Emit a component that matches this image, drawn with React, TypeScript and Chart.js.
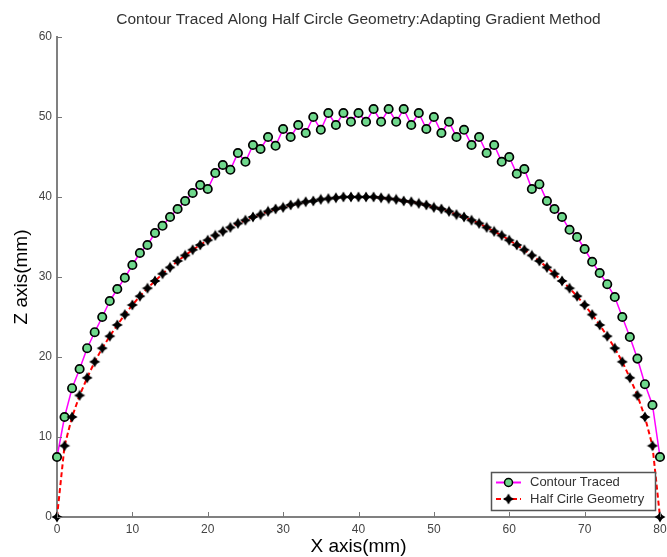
import React, { useEffect, useRef } from 'react';
import { Chart, registerables } from 'chart.js';

Chart.register(...registerables);

const titleText = 'Contour Traced Along Half Circle Geometry:Adapting Gradient Method';
const xAxisTitle = 'X axis(mm)';
const yAxisTitle = 'Z axis(mm)';
const legendLabels = ['Contour Traced', 'Half Cirle Geometry'];

const xTicks = [0, 10, 20, 30, 40, 50, 60, 70, 80];
const yTicks = [0, 10, 20, 30, 40, 50, 60];

const xValues = [
  0, 1, 2, 3, 4, 5, 6, 7, 8, 9, 10, 11, 12, 13, 14, 15, 16, 17, 18, 19, 20,
  21, 22, 23, 24, 25, 26, 27, 28, 29, 30, 31, 32, 33, 34, 35, 36, 37, 38, 39, 40,
  41, 42, 43, 44, 45, 46, 47, 48, 49, 50, 51, 52, 53, 54, 55, 56, 57, 58, 59, 60,
  61, 62, 63, 64, 65, 66, 67, 68, 69, 70, 71, 72, 73, 74, 75, 76, 77, 78, 79, 80,
];

const contourZ = [
  7.5, 12.5, 16.1, 18.5, 21.1, 23.1, 25.0, 27.0, 28.5, 29.9, 31.5,
  33.0, 34.0, 35.5, 36.4, 37.5, 38.5, 39.5, 40.5, 41.5, 41.0,
  43.0, 44.0, 43.4, 45.5, 44.4, 46.5, 46.0, 47.5, 46.4, 48.5,
  47.5, 49.0, 48.0, 50.0, 48.4, 50.5, 49.0, 50.5, 49.4, 50.5,
  49.4, 51.0, 49.4, 51.0, 49.4, 51.0, 49.0, 50.5, 48.5, 50.0,
  48.0, 49.4, 47.5, 48.4, 46.5, 47.5, 45.5, 46.5, 44.4, 45.0,
  42.9, 43.5, 41.0, 41.6, 39.5, 38.5, 37.5, 35.9, 35.0, 33.5,
  31.9, 30.5, 29.1, 27.5, 25.0, 22.5, 19.8, 16.6, 14.0, 7.5,
];

const circleZ = [
  0.0, 8.9, 12.5, 15.2, 17.4, 19.4, 21.1, 22.6, 24.0, 25.3, 26.5,
  27.6, 28.6, 29.5, 30.4, 31.2, 32.0, 32.7, 33.4, 34.0, 34.6,
  35.2, 35.7, 36.2, 36.7, 37.1, 37.5, 37.8, 38.2, 38.5, 38.7,
  39.0, 39.2, 39.4, 39.5, 39.7, 39.8, 39.9, 40.0, 40.0, 40.0,
  40.0, 40.0, 39.9, 39.8, 39.7, 39.5, 39.4, 39.2, 39.0, 38.7,
  38.5, 38.2, 37.8, 37.5, 37.1, 36.7, 36.2, 35.7, 35.2, 34.6,
  34.0, 33.4, 32.7, 32.0, 31.2, 30.4, 29.5, 28.6, 27.6, 26.5,
  25.3, 24.0, 22.6, 21.1, 19.4, 17.4, 15.2, 12.5, 8.9, 0.0,
];

const FONT = "'Liberation Sans', Arial, sans-serif";
const GREEN = '#6fd88c';
const MAGENTA = '#ff00ff';
const RED = '#ff0000';

function makeStar(): HTMLCanvasElement {
  const c = document.createElement('canvas');
  c.width = 12;
  c.height = 12;
  const g = c.getContext('2d')!;
  g.fillStyle = '#000';
  g.beginPath();
  const cx = 6, cy = 6, R = 5.5, r = 3.0;
  for (let i = 0; i < 8; i++) {
    const a = (Math.PI / 4) * i - Math.PI / 2;
    const rad = i % 2 === 0 ? R : r;
    const px = cx + rad * Math.cos(a);
    const py = cy + rad * Math.sin(a);
    if (i === 0) g.moveTo(px, py); else g.lineTo(px, py);
  }
  g.closePath();
  g.fill();
  return c;
}

export default function App() {
  const ref = useRef<HTMLCanvasElement | null>(null);

  useEffect(() => {
    if (!ref.current) return;
    const star = makeStar();

    const decor = {
      id: 'decor',
      afterDatasetsDraw(chart: any) {
        const { ctx, chartArea, scales } = chart;
        const xs = scales.x, ys = scales.y;
        ctx.save();
        ctx.strokeStyle = '#777';
        ctx.lineWidth = 1;
        ctx.beginPath();
        xTicks.forEach((v) => {
          const px = Math.round(xs.getPixelForValue(v)) + 0.5;
          ctx.moveTo(px, chartArea.bottom);
          ctx.lineTo(px, chartArea.bottom - 5);
        });
        yTicks.forEach((v) => {
          const py = Math.round(ys.getPixelForValue(v)) + 0.5;
          ctx.moveTo(chartArea.left, py);
          ctx.lineTo(chartArea.left + 5, py);
        });
        ctx.stroke();

        // legend box
        const bw = 164, bh = 38;
        const bx = chartArea.right - 5 - bw;
        const by = chartArea.bottom - 7 - bh;
        ctx.fillStyle = '#fff';
        ctx.fillRect(bx, by, bw, bh);
        ctx.strokeStyle = '#555';
        ctx.lineWidth = 1.5;
        ctx.strokeRect(bx + 0.5, by + 0.5, bw, bh);

        const lx0 = bx + 5, lx1 = bx + 30, lmid = bx + 17.5;
        const r1 = by + 10.5, r2 = by + 27;
        ctx.strokeStyle = MAGENTA;
        ctx.lineWidth = 2;
        ctx.setLineDash([]);
        ctx.beginPath();
        ctx.moveTo(lx0, r1);
        ctx.lineTo(lx1, r1);
        ctx.stroke();
        ctx.fillStyle = GREEN;
        ctx.strokeStyle = '#000';
        ctx.lineWidth = 1.5;
        ctx.beginPath();
        ctx.arc(lmid, r1, 4, 0, Math.PI * 2);
        ctx.fill();
        ctx.stroke();

        ctx.strokeStyle = RED;
        ctx.lineWidth = 2;
        ctx.setLineDash([5, 3]);
        ctx.beginPath();
        ctx.moveTo(lx0, r2);
        ctx.lineTo(lx1, r2);
        ctx.stroke();
        ctx.setLineDash([]);
        ctx.drawImage(star, lmid - 6, r2 - 6);

        ctx.fillStyle = '#333';
        ctx.font = `13px ${FONT}`;
        ctx.textBaseline = 'middle';
        ctx.textAlign = 'left';
        ctx.fillText(legendLabels[0], bx + 39, r1);
        ctx.fillText(legendLabels[1], bx + 39, r2);
        ctx.restore();
      },
    };

    const chart = new Chart(ref.current, {
      type: 'line',
      data: {
        datasets: [
          {
            label: legendLabels[0],
            data: xValues.map((x, i) => ({ x, y: contourZ[i] })),
            borderColor: MAGENTA,
            borderWidth: 1.5,
            pointRadius: 4.2,
            pointBorderWidth: 1.7,
            pointBackgroundColor: GREEN,
            pointBorderColor: '#000',
            clip: false,
            tension: 0,
            order: 2,
          },
          {
            label: legendLabels[1],
            data: xValues.map((x, i) => ({ x, y: circleZ[i] })),
            borderColor: RED,
            borderWidth: 2,
            borderDash: [5, 3],
            pointStyle: star as any,
            pointRadius: 5,
            clip: false,
            tension: 0,
            order: 1,
          },
        ],
      },
      options: {
        animation: false,
        responsive: false,
        layout: { padding: { left: 0, right: 5, top: 0, bottom: 0 } },
        plugins: {
          legend: { display: false },
          tooltip: { enabled: false },
          title: {
            display: true,
            text: titleText,
            fullSize: false,
            color: '#333',
            font: { family: FONT, size: 15.5, weight: 'normal' },
            padding: { top: 10.7, bottom: 7.7 },
          },
        },
        scales: {
          x: {
            type: 'linear',
            min: 0,
            max: 80,
            afterFit: (s: any) => {
              s.height = 40;
              s.paddingLeft = 0;
              s.paddingRight = 0;
            },
            afterBuildTicks: (s: any) => {
              s.ticks = xTicks.map((v) => ({ value: v }));
            },
            grid: { display: true, drawOnChartArea: false, drawTicks: false },
            border: { display: true, color: '#808080', width: 2 },
            ticks: {
              color: '#444',
              font: { family: FONT, size: 12 },
              padding: 5,
              maxRotation: 0,
            },
            title: {
              display: true,
              text: xAxisTitle,
              color: '#000',
              font: { family: FONT, size: 19, lineHeight: 1.1 },
              padding: { top: 0, bottom: 0 },
            },
          },
          y: {
            type: 'linear',
            min: 0,
            max: 60,
            afterFit: (s: any) => {
              s.width = 57;
              s.paddingTop = 0;
              s.paddingBottom = 0;
            },
            afterBuildTicks: (s: any) => {
              s.ticks = yTicks.map((v) => ({ value: v }));
            },
            grid: { display: true, drawOnChartArea: false, drawTicks: false },
            border: { display: true, color: '#808080', width: 2 },
            ticks: {
              color: '#444',
              font: { family: FONT, size: 12 },
              padding: 5,
            },
            title: {
              display: true,
              text: yAxisTitle,
              color: '#000',
              font: { family: FONT, size: 19, lineHeight: 1.2 },
              padding: { top: 10, bottom: 0 },
            },
          },
        },
      },
      plugins: [decor],
    });
    return () => chart.destroy();
  }, []);

  return (
    <div style={{ position: 'absolute', left: 0, top: 0, width: 667, height: 557, background: '#fff' }}>
      <canvas ref={ref} width={667} height={557} />
    </div>
  );
}
